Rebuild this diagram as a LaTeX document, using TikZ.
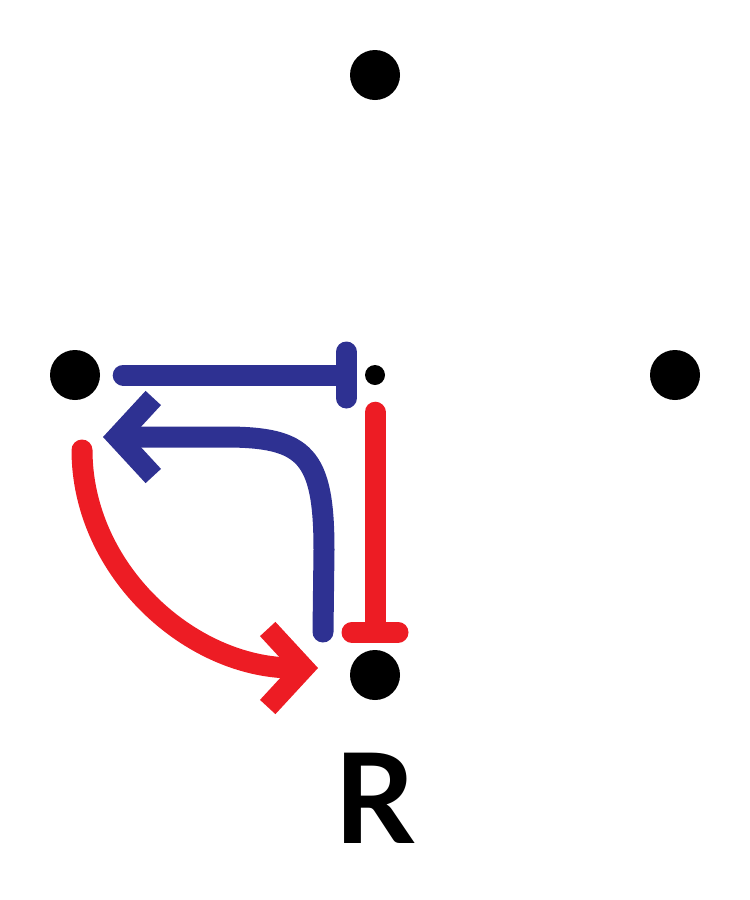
\documentclass[tikz,border=0pt]{standalone}
\usepackage{fontspec}
\newfontfamily\rfont{Lato}
\usetikzlibrary{arrows.meta,calc}
\definecolor{myblue}{HTML}{2E3192}
\definecolor{myred}{HTML}{ED1C24}
\tikzset{
  bigdot/.style={circle,fill=black,inner sep=0pt,minimum size=50pt},
  smalldot/.style={circle,fill=black,inner sep=0pt,minimum size=20pt},
  conn/.style={line width=21pt,line cap=round},
  teetip/.style={-{Bar[width=46pt,round]}},
  barbtip/.style={-{Straight Barb[length=36pt,width=78pt]}},
}
\begin{document}
\begin{tikzpicture}[x=1pt,y=-1pt]
\useasboundingbox (0,0) rectangle (750,900);
\node[bigdot] (T) at (375,75) {};
\node[bigdot] (L) at (75,375) {};
\node[bigdot] (Rt) at (675,375) {};
\node[bigdot] (B) at (375,675) {};
\node[smalldot] (C) at (375,375) {};
\node[anchor=base,inner sep=0pt] (lab) at (375,843) {\rfont\bfseries\fontsize{125}{125}\selectfont R};
% blue inhibition L -| C
\draw[conn,myblue,teetip,shorten <=23pt,shorten >=8pt] (L) -- (C);
% red inhibition C -| B
\draw[conn,myred,teetip,shorten <=27pt,shorten >=7pt] (C) -- (B);
% blue curved arrow B -> L
\draw[conn,myblue,barbtip] ($(B)+(-52,-43)$) -- ($(B)+(-51,-125)$)
  .. controls ($(B)+(-51,-220)$) and ($(B)+(-70,-238)$) .. ($(B)+(-150,-238)$)
  -- ($(L)+(28,62)$);
% red curved arrow L -> B
\draw[conn,myred,barbtip] ($(L)+(7,75)$)
  .. controls ($(L)+(7,195)$) and ($(B)+(-185,-7)$) .. ($(B)+(-57,-7)$);
\end{tikzpicture}
\end{document}
